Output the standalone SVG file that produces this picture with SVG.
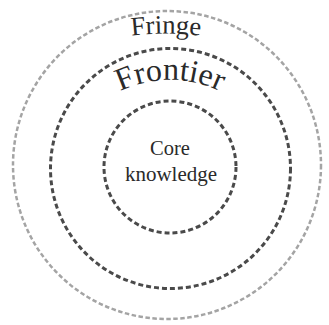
<svg xmlns="http://www.w3.org/2000/svg" width="329" height="325" viewBox="0 0 329 325">
<style>
.ring{fill:none}
.outer{stroke:#a4a4a4;stroke-width:2.5;stroke-dasharray:4.5 2.5}
.mid{stroke:#4a4a4a;stroke-width:3;stroke-dasharray:5 3}
.inner{stroke:#4a4a4a;stroke-width:3;stroke-dasharray:5 3}
.lbl{font-family:"Liberation Serif","Times New Roman",serif;fill:#2a2a2a}
</style>
<defs>
<path id="fringePath" d="M 100 41 A 300 300 0 0 1 232 41"/>
<path id="frontierPath" d="M 105 100 A 115 115 0 0 1 235 100"/>
</defs>
<rect width="329" height="325" fill="#fff"/>
<g id="fringe">
<circle class="ring outer" cx="167" cy="165" r="154"/>
<text class="lbl" font-size="26.5"><textPath href="#fringePath" startOffset="50%" text-anchor="middle">Fringe</textPath></text>
</g>
<g id="frontier">
<circle class="ring mid" cx="170.5" cy="168.5" r="120"/>
<text class="lbl" font-size="32"><textPath href="#frontierPath" startOffset="50%" text-anchor="middle">Frontier</textPath></text>
</g>
<g id="core">
<circle class="ring inner" cx="170" cy="167" r="66"/>
<text class="lbl" font-size="20.5" x="170" y="155" text-anchor="middle">Core</text>
<text class="lbl" font-size="21" x="171" y="181" text-anchor="middle">knowledge</text>
</g>
<g id="connectors"/>
</svg>
